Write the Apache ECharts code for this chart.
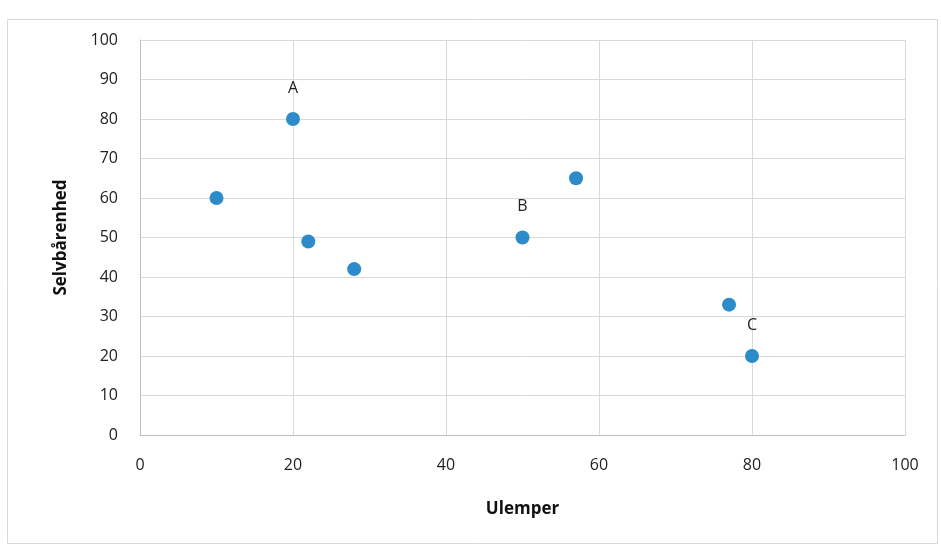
<!DOCTYPE html>
<html><head><meta charset="utf-8">
<script src="https://cdn.jsdelivr.net/npm/echarts@6/dist/echarts.min.js"></script>
<style>html,body{margin:0;padding:0;background:#fff}#c{width:941px;height:546px}</style>
</head><body><div id="c"></div>
<script>
const xValues = [10, 20, 22, 28, 50, 57, 77, 80];
const yValues = [60, 80, 49, 42, 50, 65, 33, 20];
const pointLabels = ['', 'A', '', '', 'B', '', '', 'C'];
const xTitle = 'Ulemper';
const yTitle = 'Selvbårenhed';

const data = xValues.map((x, i) => ({
  value: [x, yValues[i]],
  label: { show: pointLabels[i] !== '', formatter: pointLabels[i] }
}));

const chart = echarts.init(document.getElementById('c'));
const font = '"Open Sans", "Liberation Sans", sans-serif';
chart.setOption({
  animation: false,
  backgroundColor: '#fff',
  textStyle: { fontFamily: font },
  graphic: [{
    type: 'rect', left: 5, top: 17, shape: { width: 930, height: 524 },
    style: { fill: 'none', stroke: '#d9d9d9', lineWidth: 1 }, silent: true
  }],
  grid: { left: 140, right: 36, top: 40, bottom: 111 },
  xAxis: {
    type: 'value', min: 0, max: 100, interval: 20,
    name: xTitle, nameLocation: 'middle', nameGap: 66,
    nameTextStyle: { fontFamily: font, fontWeight: 'bold', fontSize: 17, color: '#111' },
    axisLine: { show: true, lineStyle: { color: '#bfbfbf' } },
    axisTick: { show: false },
    axisLabel: { fontFamily: font, fontSize: 16, color: '#222', margin: 22 },
    splitLine: { show: true, lineStyle: { color: '#d9d9d9' } }
  },
  yAxis: {
    type: 'value', min: 0, max: 100, interval: 10,
    name: yTitle, nameLocation: 'middle', nameGap: 70, nameRotate: 90,
    nameTextStyle: { fontFamily: font, fontWeight: 'bold', fontSize: 17, color: '#111' },
    axisLine: { show: true, lineStyle: { color: '#bfbfbf' } },
    axisTick: { show: false },
    axisLabel: { fontFamily: font, fontSize: 16, color: '#222', margin: 22 },
    splitLine: { show: true, lineStyle: { color: '#d9d9d9' } }
  },
  series: [{
    type: 'scatter',
    data: data,
    symbolSize: 14,
    itemStyle: { color: '#2E8BC9', opacity: 1 },
    label: { position: 'top', distance: 16, fontFamily: font, fontSize: 16, color: '#222' }
  }]
});
</script></body></html>
